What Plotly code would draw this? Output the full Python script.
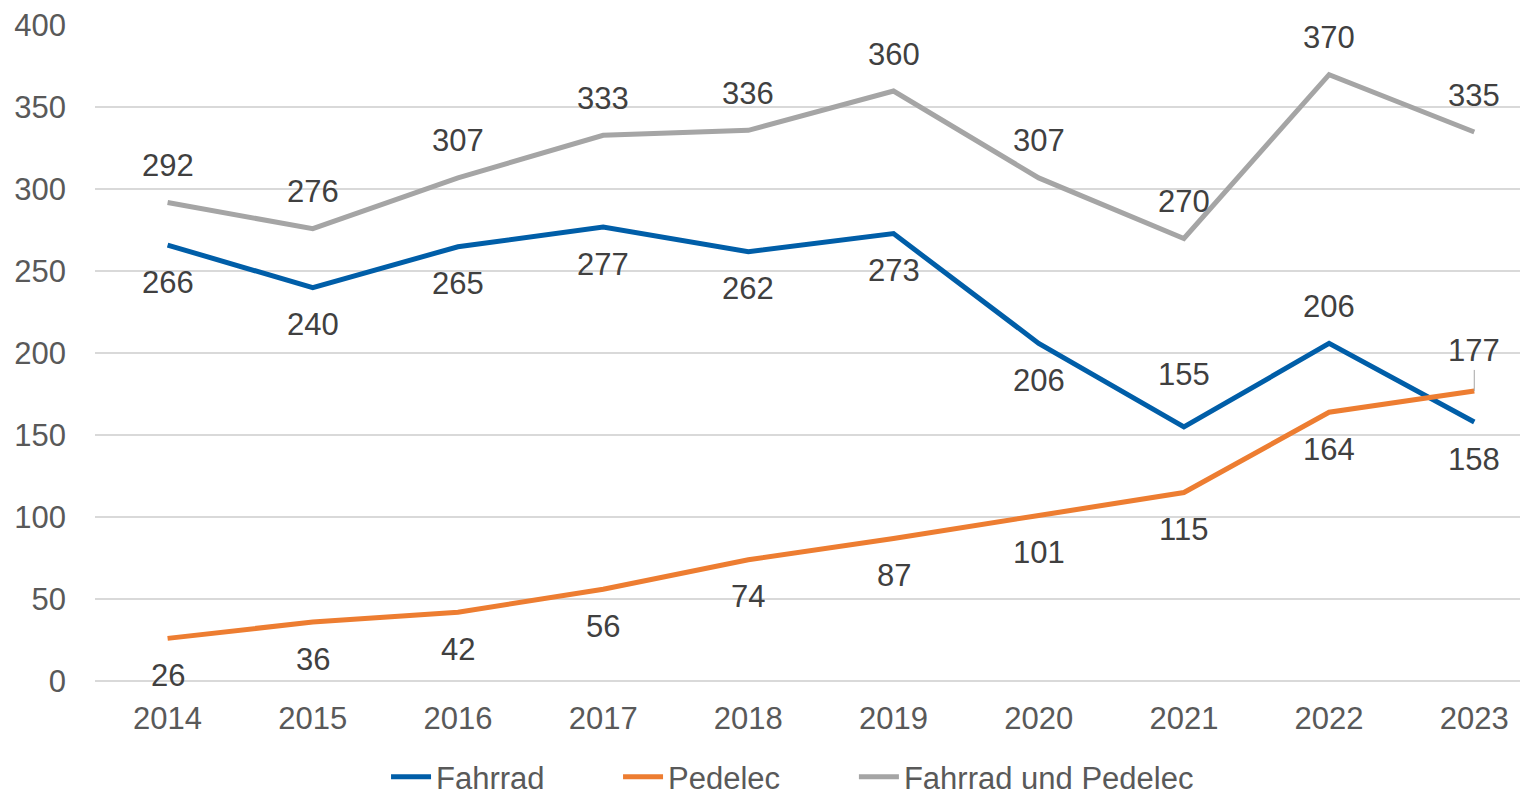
import plotly.graph_objects as go

years = ["2014", "2015", "2016", "2017", "2018", "2019", "2020", "2021", "2022", "2023"]
fahrrad = [266, 240, 265, 277, 262, 273, 206, 155, 206, 158]
pedelec = [26, 36, 42, 56, 74, 87, 101, 115, 164, 177]
gesamt = [292, 276, 307, 333, 336, 360, 307, 270, 370, 335]

series_names = ["Fahrrad", "Pedelec", "Fahrrad und Pedelec"]
colors = ["#005EA8", "#ED7D31", "#A5A5A5"]
legend_ids = ["legend", "legend2", "legend3"]
legend_x = [0.2031, 0.3650, 0.5296]

# label placement per point: +1 above, -1 below
fahrrad_pos = [-1, -1, -1, -1, -1, -1, -1, 1, 1, -1]
pedelec_pos = [-1, -1, -1, -1, -1, -1, -1, -1, -1, 1]
gesamt_pos = [1] * 10

FONT = "Liberation Sans, Arial, sans-serif"

fig = go.Figure()
for name, vals, col, lid in zip(series_names, [fahrrad, pedelec, gesamt], colors, legend_ids):
    fig.add_trace(go.Scatter(
        x=years, y=vals, name=name, mode="lines",
        line=dict(color=col, width=5),
        hoverinfo="skip", legend=lid,
    ))

annotations = []
for sidx, (vals, pos) in enumerate([(fahrrad, fahrrad_pos), (pedelec, pedelec_pos), (gesamt, gesamt_pos)]):
    for i, (v, p) in enumerate(zip(vals, pos)):
        shift = 37 * p
        if sidx == 0 and i == 7:
            shift = 52
        if sidx == 1 and i == 9:
            annotations.append(dict(
                x=i, y=v, xref="x", yref="y", text=str(v), showarrow=True, ax=0, ay=-40,
                arrowhead=0, arrowwidth=1, arrowcolor="#A6A6A6", standoff=0,
                font=dict(family=FONT, size=31, color="#404040"),
            ))
            continue
        annotations.append(dict(
            x=i, y=v, xref="x", yref="y", text=str(v), showarrow=False, yshift=shift,
            font=dict(family=FONT, size=31, color="#404040"),
        ))

legend_common = dict(
    orientation="h", xanchor="left", y=-0.1466, yanchor="middle",
    font=dict(family=FONT, size=31, color="#595959"),
    itemwidth=40, bgcolor="rgba(0,0,0,0)",
)

layout_legends = {}
for lid, lx in zip(legend_ids, legend_x):
    layout_legends[lid] = dict(legend_common, x=lx)

fig.update_layout(
    width=1520, height=787,
    margin=dict(l=87, r=0, t=17, b=114, autoexpand=False),
    paper_bgcolor="white", plot_bgcolor="white",
    font=dict(family=FONT, size=31, color="#595959"),
    xaxis=dict(
        type="category", range=[-0.5, 9.37],
        showgrid=False, zeroline=False, showline=False,
        ticks="", ticklabelstandoff=16,
        tickfont=dict(family=FONT, size=31, color="#595959"),
    ),
    yaxis=dict(
        range=[0, 400.3], tickvals=[0, 50, 100, 150, 200, 250, 300, 350, 400],
        showgrid=True, gridcolor="#D9D9D9", gridwidth=1.5,
        zeroline=True, zerolinecolor="#D9D9D9", zerolinewidth=1.5,
        showline=False, ticks="", ticklabelstandoff=28,
        tickfont=dict(family=FONT, size=31, color="#595959"),
    ),
    showlegend=True,
    annotations=annotations,
    **layout_legends,
)

fig.write_html("out.html")
